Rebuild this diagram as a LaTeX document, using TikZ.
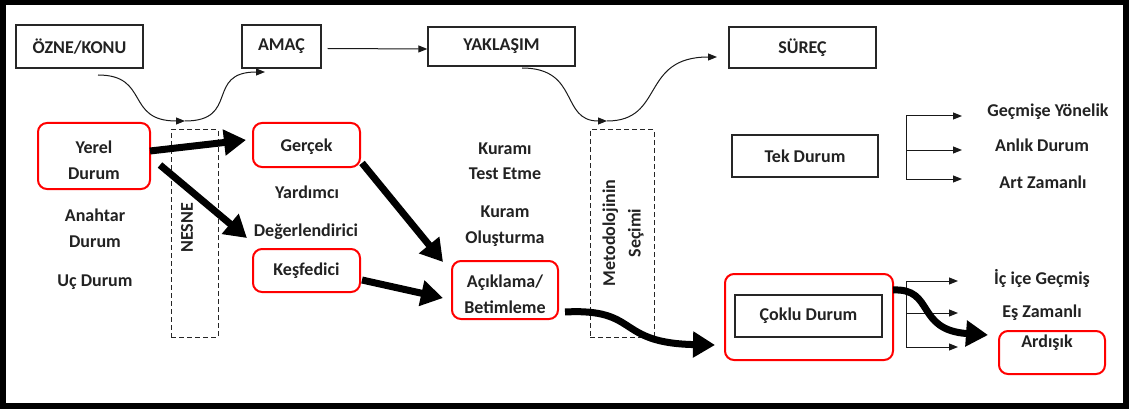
\documentclass[tikz,border=0pt]{standalone}
\usepackage{fontspec}
\setmainfont{Carlito}
\usetikzlibrary{arrows.meta}
\definecolor{txt}{HTML}{222222}
\begin{document}
\begin{tikzpicture}[x=1pt,y=-1pt,
  lbl/.style={font=\fontsize{18}{25.5}\selectfont\bfseries, text=txt, align=center, inner sep=0pt},
  bbox/.style={draw=black!85, line width=1.3pt, fill=white, inner sep=0pt, font=\fontsize{18}{25.5}\selectfont\bfseries, text=txt, align=center},
  rbox/.style={draw=red, line width=2pt, rounded corners=9pt, inner sep=0pt},
  dbox/.style={draw=black!85, line width=1pt, dash pattern=on 5pt off 3pt, inner sep=0pt},
  thinarr/.style={draw=black!90, line width=1pt, -{Triangle[length=9pt,width=7pt]}},
  thickarr/.style={draw=black, line width=7pt, -{Triangle[length=22pt,width=25pt]}}
]
\useasboundingbox (0,0) rectangle (1129,409);
\fill[white] (0,0) rectangle (1129,409);
\draw[line width=6pt] (3,2) rectangle (1126,406);

% top row
\node[bbox, minimum width=127pt, minimum height=43pt] (ozne) at (79.5,46.5) {ÖZNE/KONU};
\node[bbox, minimum width=79pt, minimum height=43pt] (amac) at (281.5,46.5) {AMAÇ};
\node[bbox, minimum width=147pt, minimum height=39pt] (yak) at (501.5,46.5) {YAKLAŞIM};
\node[bbox, minimum width=147pt, minimum height=41pt] (surec) at (802.5,47.5) {SÜREÇ};

% dashed columns
\node[dbox, minimum width=47pt, minimum height=207pt] (nesne) at (194.5,233.5) {};
\node[lbl, rotate=90] (nesnet) at (187,228) {NESNE};
\node[dbox, minimum width=64pt, minimum height=207pt] (meto) at (622,233.5) {};
\node[lbl, rotate=90] (metot) at (623,233) {Metodolojinin\\Seçimi};

\coordinate (n1) at (185,121);
\coordinate (m1) at (607,121);

% thin curved arrows
\draw[thinarr] (98,75) .. controls (150,75) and (125,121) .. (n1);
\draw[thinarr] (n1) .. controls (240,121) and (205,72) .. (265,72);
\draw[thinarr] (amac.east) ++(6,2) -- (yak.west |- 0,49);
\draw[thinarr] (522,68) .. controls (580,68) and (560,121) .. (m1);
\draw[thinarr] (m1) .. controls (665,121) and (640,57) .. (717,57);

% left column
\node[rbox, minimum width=112pt, minimum height=66pt] (yerel) at (94,156) {};
\node[lbl] (yerelt) at (94,160) {Yerel\\Durum};
\node[lbl] (anahtar) at (95,228) {Anahtar\\Durum};
\node[lbl] (uc) at (95,282) {Uç Durum};

% second column
\node[rbox, minimum width=107pt, minimum height=44pt] (gercek) at (306.5,145) {};
\node[lbl] (gercekt) at (306.5,147) {Gerçek};
\node[lbl] (yard) at (307,192) {Yardımcı};
\node[lbl] (deger) at (306,232) {Değerlendirici};
\node[rbox, minimum width=107pt, minimum height=43pt] (kesf) at (306.5,270.5) {};
\node[lbl] (kesft) at (306.5,271) {Keşfedici};

% third column
\node[lbl] (ktest) at (505,161) {Kuramı\\Test Etme};
\node[lbl] (kolus) at (505,226) {Kuram\\Oluşturma};
\node[rbox, minimum width=106pt, minimum height=58pt] (acik) at (505,290) {};
\node[lbl] (acikt) at (505,294) {Açıklama/\\Betimleme};

% right part
\node[bbox, minimum width=146pt, minimum height=42pt] (tek) at (805,156) {Tek Durum};
\node[lbl] (gy) at (1048,112) {Geçmişe Yönelik};
\node[lbl] (ad) at (1042,145) {Anlık Durum};
\node[lbl] (az) at (1043,182) {Art Zamanlı};

\node[rbox, minimum width=168pt, minimum height=86pt] (coklu) at (809,317) {};
\node[bbox, minimum width=147pt, minimum height=42pt] (cokluin) at (808.5,316) {Çoklu Durum};
\node[lbl] (icice) at (1042,278) {İç içe Geçmiş};
\node[lbl] (es) at (1042,313) {Eş Zamanlı};
\node[rbox, minimum width=106pt, minimum height=43pt] (ard) at (1052,352.5) {};
\node[lbl] (ardt) at (1047,343) {Ardışık};

% branches
\coordinate (t0) at (906,116);
\coordinate (t1) at (906,150);
\coordinate (t2) at (906,179);
\draw[draw=black!90, line width=1pt] (t0) -- (t2);
\draw[thinarr] (t0) -- (962,116);
\draw[thinarr] (t1) -- (962,150);
\draw[thinarr] (t2) -- (962,179);

\coordinate (c0) at (906,281);
\coordinate (c1) at (906,313);
\coordinate (c2) at (906,347);
\draw[draw=black!90, line width=1pt] (c0) -- (c2);
\draw[thinarr] (c0) -- (958,281);
\draw[thinarr] (c1) -- (958,313);
\draw[thinarr] (c2) -- (958,347);

% thick arrows
\draw[thickarr] (150,151) -- (246,140);
\draw[thickarr] (160,165) -- (247,238);
\draw[thickarr] (362,163) -- (443,262);
\draw[thickarr] (362,280) -- (443,298);
\draw[thickarr] (565,312) .. controls (640,308) and (615,343) .. (715,345);
\draw[thickarr] (893,290) .. controls (935,288) and (915,330) .. (988,335);
\end{tikzpicture}
\end{document}
